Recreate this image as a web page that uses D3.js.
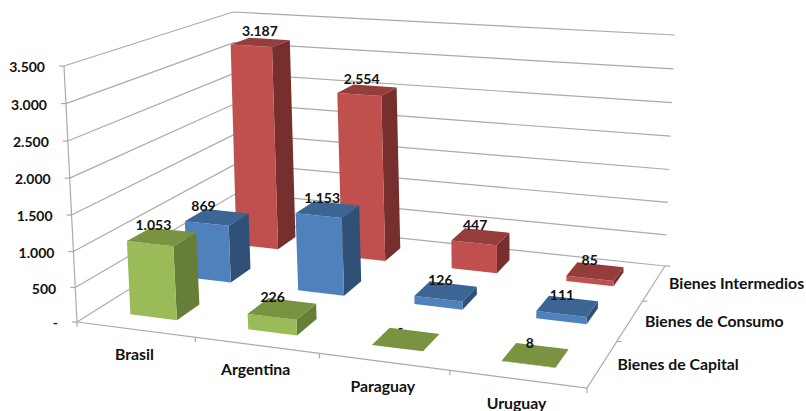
<!DOCTYPE html>
<html>
<head>
<meta charset="utf-8">
<script src="https://cdn.jsdelivr.net/npm/d3@7"></script>
<style>
  body { margin: 0; background: #fff; }
  svg { display: block; }
  text { font-family: Lato, "Open Sans", sans-serif; font-weight: 700; fill: #111; }
  .num { font-size: 14px; }
  .name { font-size: 15.8px; }
</style>
</head>
<body>
<div class="Canvas"></div>
<script>
const categories = ['Brasil', 'Argentina', 'Paraguay', 'Uruguay'];
const seriesNames = ['Bienes de Capital', 'Bienes de Consumo', 'Bienes Intermedios'];
const capitalValues = [1053, 226, 0, 8];
const consumoValues = [869, 1153, 126, 111];
const intermediosValues = [3187, 2554, 447, 85];
const yTicks = [0, 500, 1000, 1500, 2000, 2500, 3000, 3500];

const width = 806;
const height = 411;

const seriesValues = [capitalValues, consumoValues, intermediosValues];
const seriesColors = [
  { front: '#9BBB59', top: '#7A9340', side: '#677E38' },
  { front: '#4F81BD', top: '#3D6593', side: '#2F5077' },
  { front: '#C0504D', top: '#943D3B', side: '#772F2D' },
];

// corners of the chart box as seen in the picture: front-left, front-right, back-right, back-left
const floorQuad = [[77, 322], [587, 388], [665, 266], [238, 221]];
const topQuad = [[64, 66], [603, 106], [675, 35], [233, 12]];

// unit square to quad (perspective)
const squareToQuad = (q) => {
  const [[x0, y0], [x1, y1], [x2, y2], [x3, y3]] = q;
  const dx1 = x1 - x2, dx2 = x3 - x2, sx = x0 - x1 + x2 - x3;
  const dy1 = y1 - y2, dy2 = y3 - y2, sy = y0 - y1 + y2 - y3;
  const det = dx1 * dy2 - dx2 * dy1;
  const g = (sx * dy2 - dx2 * sy) / det;
  const h = (dx1 * sy - sx * dy1) / det;
  const a = x1 - x0 + g * x1, b = x3 - x0 + h * x3, c = x0;
  const d = y1 - y0 + g * y1, e = y3 - y0 + h * y3, f = y0;
  return (u, v) => {
    const w = g * u + h * v + 1;
    return [(a * u + b * v + c) / w, (d * u + e * v + f) / w];
  };
};
const floorMap = squareToQuad(floorQuad);
const topMap = squareToQuad(topQuad);

const xBand = d3.scaleBand().domain(categories).range([0, 1]).paddingInner(0.6).paddingOuter(0.3);
const zBand = d3.scaleBand().domain(seriesNames).range([0, 1]).paddingInner(0.6).paddingOuter(0.3);
// slightly non linear: the upper grid steps are wider in the picture
const yScale = d3.scalePow().exponent(1.03).domain([0, 3500]).range([0, 1]);

const project = (u, v, value) => {
  const a = floorMap(u, v);
  const b = topMap(u, v);
  const t = yScale(value);
  return [a[0] + (b[0] - a[0]) * t, a[1] + (b[1] - a[1]) * t];
};

const locale = d3.formatLocale({ decimal: ',', thousands: '.', grouping: [3], currency: ['', ''] });
const fmt = (v) => (v === 0 ? '-' : locale.format(',d')(v));

const svg = d3.select('.Canvas').append('svg').attr('width', width).attr('height', height);
const lineGen = d3.line();

// grid on the left and back walls
const grid = svg.append('g').attr('fill', 'none').attr('stroke', '#aaa').attr('stroke-width', 1.2);
grid.selectAll('path.wall')
  .data(yTicks)
  .enter()
  .append('path')
  .attr('class', 'wall')
  .attr('d', (t) => lineGen([project(0, 0, t), project(0, 1, t), project(1, 1, t)]));

// vertical axis and the two floor edges
grid.append('path').attr('d', lineGen([project(0, 0, 0), project(0, 0, 3500)]));
grid.append('path').attr('d', lineGen([project(0, 0, 0), project(1, 0, 0), project(1, 1, 0)]));

grid.selectAll('path.ytick')
  .data(yTicks)
  .enter()
  .append('path')
  .attr('class', 'ytick')
  .attr('d', (t) => {
    const p = project(0, 0, t);
    return lineGen([p, [p[0] - 5, p[1]]]);
  });
grid.selectAll('path.xtick')
  .data(d3.range(5))
  .enter()
  .append('path')
  .attr('class', 'xtick')
  .attr('d', (i) => {
    const p = project(i / 4, 0, 0);
    return lineGen([p, [p[0], p[1] + 5]]);
  });
grid.selectAll('path.ztick')
  .data(d3.range(1, 4))
  .enter()
  .append('path')
  .attr('class', 'ztick')
  .attr('d', (i) => {
    const p = project(1, i / 3, 0);
    return lineGen([p, [p[0] + 5, p[1]]]);
  });

// bars, back row first
const barData = [];
d3.range(2, -1, -1).forEach((s) => {
  categories.forEach((c, i) => {
    barData.push({ category: c, series: seriesNames[s], value: seriesValues[s][i], colors: seriesColors[s] });
  });
});

const bars = svg.append('g')
  .selectAll('g.bar')
  .data(barData)
  .enter()
  .append('g')
  .attr('class', 'bar');

const corners = (d) => {
  const u0 = xBand(d.category), u1 = u0 + xBand.bandwidth();
  const v0 = zBand(d.series), v1 = v0 + zBand.bandwidth();
  return { u0, u1, v0, v1 };
};

bars.append('path')
  .attr('fill', (d) => d.colors.side)
  .attr('d', (d) => {
    const { u1, v0, v1 } = corners(d);
    return lineGen([project(u1, v0, 0), project(u1, v1, 0), project(u1, v1, d.value), project(u1, v0, d.value)]) + 'Z';
  });
bars.append('path')
  .attr('fill', (d) => d.colors.front)
  .attr('d', (d) => {
    const { u0, u1, v0 } = corners(d);
    return lineGen([project(u0, v0, 0), project(u1, v0, 0), project(u1, v0, d.value), project(u0, v0, d.value)]) + 'Z';
  });
bars.append('path')
  .attr('fill', (d) => d.colors.top)
  .attr('d', (d) => {
    const { u0, u1, v0, v1 } = corners(d);
    return lineGen([project(u0, v0, d.value), project(u1, v0, d.value), project(u1, v1, d.value), project(u0, v1, d.value)]) + 'Z';
  });

// data labels; a few of the left ones sit off centre in the picture
const labelShift = { 3187: 5, 869: -8, 1053: -3, 226: -4 };
svg.append('g')
  .selectAll('text')
  .data(barData)
  .enter()
  .append('text')
  .attr('class', 'num')
  .attr('text-anchor', 'middle')
  .attr('x', (d) => {
    const { u0, u1, v0, v1 } = corners(d);
    return project((u0 + u1) / 2, (v0 + v1) / 2, d.value)[0] - 5.5 + (labelShift[d.value] || 0);
  })
  .attr('y', (d) => {
    const { u0, u1, v0, v1 } = corners(d);
    return project((u0 + u1) / 2, (v0 + v1) / 2, d.value)[1] - 6.5;
  })
  .text((d) => fmt(d.value));

// axis labels
svg.append('g')
  .selectAll('text')
  .data(yTicks)
  .enter()
  .append('text')
  .attr('class', 'num')
  .attr('text-anchor', 'end')
  .attr('x', (t) => project(0, 0, t)[0] - 19)
  .attr('y', (t) => project(0, 0, t)[1] + 6)
  .text(fmt);

svg.append('g')
  .selectAll('text')
  .data(categories)
  .enter()
  .append('text')
  .attr('class', 'name')
  .attr('text-anchor', 'middle')
  .attr('x', (c) => project(xBand(c) + xBand.bandwidth() / 2, 0, 0)[0] - 1)
  .attr('y', (c) => project(xBand(c) + xBand.bandwidth() / 2, 0, 0)[1] + 30)
  .text((c) => c);

svg.append('g')
  .selectAll('text')
  .data(seriesNames)
  .enter()
  .append('text')
  .attr('class', 'name')
  .attr('x', (s) => project(1, zBand(s) + zBand.bandwidth() / 2, 0)[0] + 15)
  .attr('y', (s) => project(1, zBand(s) + zBand.bandwidth() / 2, 0)[1] + 6)
  .text((s) => s);
</script>
</body>
</html>
